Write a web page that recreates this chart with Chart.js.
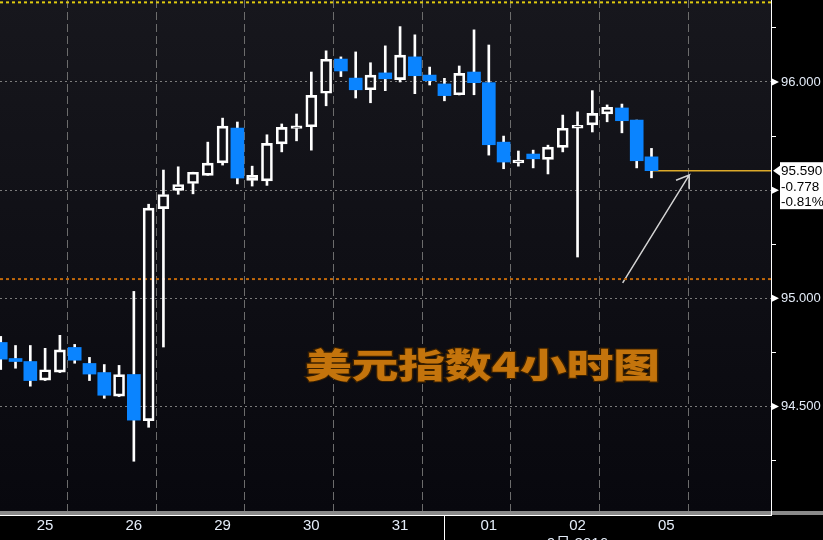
<!DOCTYPE html>
<html>
<head>
<meta charset="utf-8">
<script src="https://cdn.jsdelivr.net/npm/chart.js@4.4.0/dist/chart.umd.min.js"></script>
<style>
  html, body { margin: 0; padding: 0; background: #000; overflow: hidden; }
</style>
</head>
<body>
<canvas id="dxyChart" width="823" height="540"></canvas>
<script>
// 4h candles, six per session day (25 Aug .. 05 Sep)
const opens  = [94.796, 94.722, 94.708, 94.622, 94.659, 94.773, 94.699, 94.657, 94.548, 94.648,
                94.435, 95.415, 95.499, 95.531, 95.568, 95.626, 95.787, 95.545, 95.543, 95.714,
                95.785, 95.793, 95.948, 96.106, 96.018, 95.964, 96.042, 96.011, 96.116, 96.032,
                95.991, 95.941, 96.046, 95.997, 95.722, 95.626, 95.667, 95.642, 95.698, 95.787,
                95.802, 95.853, 95.880, 95.824, 95.654];
const highs  = [94.824, 94.782, 94.782, 94.769, 94.829, 94.787, 94.727, 94.694, 94.690, 95.032,
                95.435, 95.593, 95.608, 95.583, 95.722, 95.833, 95.815, 95.611, 95.756, 95.806,
                95.852, 96.046, 96.144, 96.116, 96.139, 96.089, 96.167, 96.256, 96.218, 96.069,
                96.017, 96.074, 96.241, 96.171, 95.750, 95.681, 95.685, 95.708, 95.847, 95.862,
                95.960, 95.894, 95.898, 95.824, 95.693];
const lows   = [94.671, 94.677, 94.594, 94.620, 94.657, 94.700, 94.620, 94.538, 94.546, 94.247,
                94.404, 94.775, 95.481, 95.483, 95.568, 95.616, 95.529, 95.519, 95.522, 95.677,
                95.728, 95.685, 95.890, 96.025, 95.926, 95.904, 95.960, 96.000, 95.946, 95.986,
                95.913, 95.940, 95.941, 95.662, 95.599, 95.611, 95.603, 95.575, 95.677, 95.191,
                95.769, 95.816, 95.765, 95.603, 95.557];
const closes = [94.719, 94.708, 94.620, 94.670, 94.762, 94.714, 94.650, 94.552, 94.647, 94.437,
                95.417, 95.480, 95.526, 95.583, 95.625, 95.796, 95.556, 95.568, 95.716, 95.790,
                95.797, 95.938, 96.105, 96.051, 95.964, 96.032, 96.015, 96.124, 96.029, 96.006,
                95.937, 96.040, 95.997, 95.710, 95.630, 95.639, 95.645, 95.699, 95.786, 95.800,
                95.855, 95.883, 95.821, 95.636, 95.590];

const dayLabels  = ['25', '26', '29', '30', '31', '01', '02', '05'];
const monthLabel = '9月 2016';
const candlesPerDay = 6;
const yTicks = [94.25, 94.5, 94.75, 95.0, 95.25, 95.5, 95.75, 96.0, 96.25];
const prevClose = 96.368;
const lowLevel  = 95.089;
const arrowX = [42.05, 46.55, 45.66, 46.55, 46.55];
const arrowY = [95.071, 95.570, 95.546, 95.570, 95.504];
const chartTitle = '美元指数4小时图';

const xMin = -0.05, xMax = 52.08;
const yMin = 94.017, yMax = 96.379;

const BLUE = '#0a84ff';
const LABEL = '#e4ecf8';
const FONT = '"Liberation Sans", Arial, "Noto Sans CJK SC", sans-serif';

const idx = opens.map((_, i) => i);
const lowerWicks = idx.map(i => ({ x: i, y: [lows[i], Math.min(opens[i], closes[i])] }));
const upperWicks = idx.map(i => ({ x: i, y: [Math.max(opens[i], closes[i]), highs[i]] }));
const downBodies = idx.filter(i => closes[i] < opens[i]).map(i => ({ x: i, y: [opens[i], closes[i]] }));
const upBodies   = idx.filter(i => closes[i] >= opens[i]).map(i => ({ x: i, y: [opens[i], closes[i]] }));
const lastIdx = closes.length - 1;
const lastClose = closes[lastIdx];

const isMajor = v => Math.abs(v * 2 - Math.round(v * 2)) < 1e-6;
const noPad = axis => {
  axis.paddingTop = 0;
  axis.paddingBottom = 0;
  axis.paddingLeft = 0;
  axis.paddingRight = 0;
};

const framePlugin = {
  id: 'frame',
  beforeDraw(chart) {
    const { ctx, chartArea: a, width, height } = chart;
    ctx.save();
    ctx.fillStyle = '#000';
    ctx.fillRect(0, 0, width, height);
    const g = ctx.createLinearGradient(0, a.top, 0, a.bottom);
    g.addColorStop(0, '#17171d');
    g.addColorStop(1, '#08080e');
    ctx.fillStyle = g;
    ctx.fillRect(a.left, a.top, a.right - a.left, a.bottom - a.top);
    ctx.restore();
  },
  beforeDatasetsDraw(chart) {
    // title text sits over the grid
    const { ctx } = chart;
    ctx.save();
    ctx.font = '900 40px "Noto Sans CJK SC"';
    ctx.textBaseline = 'middle';
    const w = ctx.measureText(chartTitle).width;
    ctx.translate(305, 365);
    ctx.scale(355 / w, 0.86);
    ctx.lineWidth = 2.5;
    ctx.strokeStyle = '#3a2000';
    ctx.strokeText(chartTitle, 0, 0);
    ctx.fillStyle = '#c4740c';
    ctx.fillText(chartTitle, 0, 0);
    ctx.restore();
  },
  afterDraw(chart) {
    const { ctx, chartArea: a, width, height } = chart;
    const xs = chart.scales.x, ys = chart.scales.y;
    ctx.save();
    // bottom band
    ctx.fillStyle = '#8a8a8a';
    ctx.fillRect(0, a.bottom, width, 4);
    ctx.fillStyle = '#ffffff';
    ctx.fillRect(0, a.bottom + 4, a.right + 1, 1);
    ctx.fillRect(a.right, 0, 1, a.bottom + 5);
    // month separator
    const mx = Math.round(xs.getPixelForValue(5 * candlesPerDay));
    ctx.fillRect(mx, a.bottom + 5, 1, height - a.bottom - 5);
    // triangles on major ticks
    yTicks.filter(isMajor).forEach(v => {
      const y = ys.getPixelForValue(v);
      ctx.beginPath();
      ctx.moveTo(a.right + 1, y - 3.5);
      ctx.lineTo(a.right + 8, y);
      ctx.lineTo(a.right + 1, y + 3.5);
      ctx.closePath();
      ctx.fill();
    });
    // last price box
    const py = ys.getPixelForValue(lastClose);
    const bx = a.right + 9;
    ctx.beginPath();
    ctx.moveTo(a.right + 2, py);
    ctx.lineTo(bx, py - 5);
    ctx.lineTo(bx, py + 5);
    ctx.closePath();
    ctx.fill();
    ctx.fillRect(bx, py - 8.5, width - bx, 47);
    const chg = lastClose - prevClose;
    const pct = chg / prevClose * 100;
    ctx.fillStyle = '#000';
    ctx.font = '13.5px ' + FONT;
    ctx.textBaseline = 'middle';
    ctx.textAlign = 'left';
    ctx.fillText(lastClose.toFixed(3), bx + 1, py + 1);
    ctx.fillText(chg.toFixed(3), bx + 1, py + 16.5);
    ctx.fillText(pct.toFixed(2) + '%', bx + 1, py + 32);
    ctx.restore();
  }
};

const ctx = document.getElementById('dxyChart').getContext('2d');
const dxyChart = new Chart(ctx, {
  type: 'bar',
  data: {
    datasets: [
      { data: upBodies, barThickness: 11, backgroundColor: 'rgba(0,0,0,0)', borderColor: '#ffffff',
        borderWidth: 2, borderSkipped: false, grouped: false, order: 0 },
      { data: downBodies, barThickness: 13, backgroundColor: BLUE, borderWidth: 0, grouped: false, order: 0 },
      { data: lowerWicks, barThickness: 2, backgroundColor: '#ffffff', borderWidth: 0, grouped: false, order: 1 },
      { data: upperWicks, barThickness: 2, backgroundColor: '#ffffff', borderWidth: 0, grouped: false, order: 1 },
      { type: 'line', data: [{ x: lastIdx, y: lastClose }, { x: xMax, y: lastClose }],
        borderColor: '#dcaa2a', borderWidth: 1.5, pointRadius: 0, order: 2 },
      { type: 'line', data: [{ x: xMin, y: prevClose }, { x: xMax, y: prevClose }],
        borderColor: '#e0cc10', borderWidth: 2, borderDash: [3, 3], pointRadius: 0, order: 2 },
      { type: 'line', data: [{ x: xMin, y: lowLevel }, { x: xMax, y: lowLevel }],
        borderColor: '#c0680a', borderWidth: 2, borderDash: [3, 3], pointRadius: 0, order: 2 },
      { type: 'line', data: arrowX.map((x, i) => ({ x: x, y: arrowY[i] })),
        borderColor: '#d4d4d4', borderWidth: 1.5, pointRadius: 0, tension: 0, order: 2 }
    ]
  },
  options: {
    responsive: false,
    animation: false,
    devicePixelRatio: 1,
    layout: { padding: 0, autoPadding: false },
    plugins: { legend: { display: false }, tooltip: { enabled: false } },
    scales: {
      x: {
        type: 'linear',
        min: xMin,
        max: xMax,
        offset: false,
        afterBuildTicks: axis => {
          const t = [];
          for (let v = 0; v <= 51; v += candlesPerDay / 2) t.push({ value: v });
          axis.ticks = t;
        },
        afterFit: axis => { axis.height = 29; noPad(axis); },
        grid: {
          color: c => (c.tick && c.tick.value % candlesPerDay === 0) ? '#6c6c6c' : 'rgba(0,0,0,0)',
          lineWidth: 1,
          drawTicks: false
        },
        border: { display: false, dash: [8, 4] },
        ticks: {
          autoSkip: false,
          maxRotation: 0,
          padding: 6,
          color: LABEL,
          font: { family: FONT, size: 15 },
          callback: v => {
            if (v % candlesPerDay !== 3) return '';
            const i = (v - 3) / candlesPerDay;
            if (dayLabels[i] === '02') return [dayLabels[i], monthLabel];
            return dayLabels[i] || '';
          }
        }
      },
      y: {
        type: 'linear',
        position: 'right',
        min: yMin,
        max: yMax,
        afterBuildTicks: axis => { axis.ticks = yTicks.map(v => ({ value: v })); },
        afterFit: axis => { axis.width = 52; noPad(axis); },
        grid: {
          color: c => (c.tick && isMajor(c.tick.value)) ? '#7c7c7c' : 'rgba(0,0,0,0)',
          tickColor: '#ffffff',
          tickLength: 5,
          lineWidth: 1
        },
        border: { display: true, color: '#ffffff', dash: [2, 3] },
        ticks: {
          autoSkip: false,
          padding: 5,
          color: LABEL,
          font: { family: FONT, size: 13 },
          callback: v => isMajor(v) ? v.toFixed(3) : ''
        }
      }
    }
  },
  plugins: [framePlugin]
});
</script>
</body>
</html>
